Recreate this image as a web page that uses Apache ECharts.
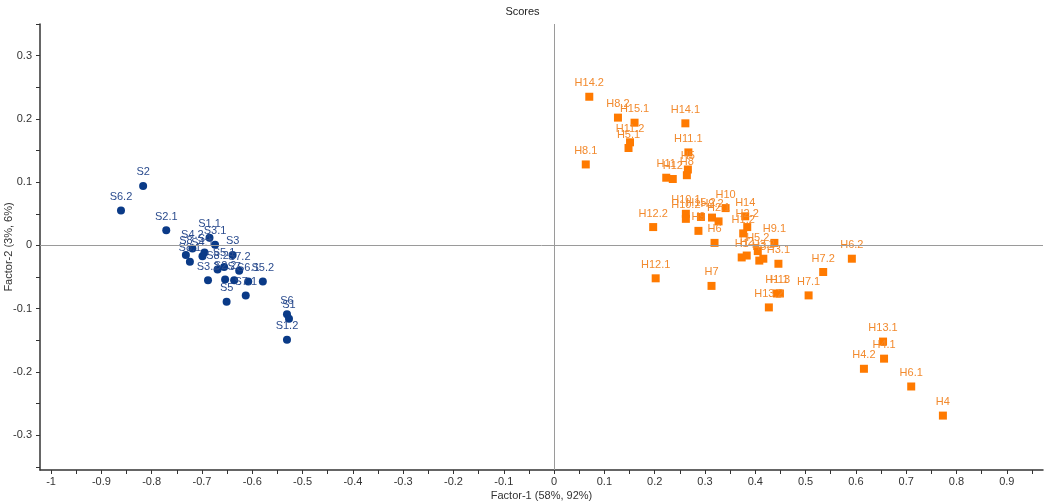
<!DOCTYPE html>
<html>
<head>
<meta charset="utf-8">
<script src="https://cdn.jsdelivr.net/npm/echarts@6/dist/echarts.min.js"></script>
<style>
html, body { margin: 0; padding: 0; background: #fff; }
#main { width: 1045px; height: 503px; }
</style>
</head>
<body>
<div id="main"></div>
<script>
// S samples (blue circles)
var sNames = ['S2', 'S6.2', 'S2.1', 'S1.1', 'S3.1', 'S4.2', 'S4', 'S4.1', 'S8', 'S8.1', 'S3', 'S8.2',
    'S5.1', 'S7.2', 'S6.1', 'S5.2', 'S3.2', 'S2.2', 'S7', 'S7.1', 'S5', 'S6', 'S1', 'S1.2'];
var sX = [-0.817, -0.861, -0.771, -0.685, -0.674, -0.719, -0.695, -0.699, -0.732, -0.724, -0.639, -0.669,
    -0.656, -0.626, -0.608, -0.579, -0.688, -0.654, -0.636, -0.613, -0.651, -0.531, -0.527, -0.531];
var sY = [0.094, 0.055, 0.024, 0.012, 0.001, -0.005, -0.011, -0.017, -0.015, -0.026, -0.015, -0.038,
    -0.034, -0.040, -0.057, -0.057, -0.055, -0.054, -0.055, -0.079, -0.089, -0.109, -0.116, -0.149];

// H samples (orange squares)
var hNames = ['H14.2', 'H8.2', 'H15.1', 'H11.2', 'H5.1', 'H8.1', 'H14.1', 'H11.1', 'H5', 'H8', 'H11', 'H12',
    'H10.1', 'H10.2', 'H15.2', 'H9.2', 'H2.1', 'H10', 'H9', 'H6', 'H12.2', 'H14', 'H2.2', 'H1.2',
    'H9.1', 'H5.2', 'H1', 'H2', 'H3', 'H3.2', 'H3.1', 'H7.2', 'H12.1', 'H7', 'H1.1', 'H13',
    'H13.2', 'H7.1', 'H6.2', 'H13.1', 'H4.1', 'H4.2', 'H6.1', 'H4'];
var hX = [0.070, 0.127, 0.160, 0.151, 0.148, 0.063, 0.261, 0.267, 0.266, 0.264, 0.223, 0.236,
    0.262, 0.262, 0.292, 0.314, 0.327, 0.341, 0.287, 0.319, 0.197, 0.380, 0.384, 0.376,
    0.438, 0.405, 0.373, 0.383, 0.408, 0.416, 0.446, 0.535, 0.202, 0.313, 0.443, 0.449,
    0.427, 0.506, 0.592, 0.654, 0.656, 0.616, 0.710, 0.773];
var hY = [0.235, 0.202, 0.194, 0.163, 0.154, 0.128, 0.193, 0.147, 0.120, 0.111, 0.107, 0.105,
    0.050, 0.042, 0.045, 0.044, 0.038, 0.059, 0.023, 0.004, 0.029, 0.046, 0.029, 0.019,
    0.004, -0.009, -0.019, -0.016, -0.024, -0.021, -0.029, -0.042, -0.052, -0.064, -0.076, -0.076,
    -0.098, -0.079, -0.021, -0.152, -0.179, -0.195, -0.223, -0.269];

// axis ticks
var xLabels = [-1, -0.9, -0.8, -0.7, -0.6, -0.5, -0.4, -0.3, -0.2, -0.1, 0, 0.1, 0.2, 0.3, 0.4, 0.5, 0.6, 0.7, 0.8, 0.9];
var xTicks = [-1, -0.95, -0.9, -0.85, -0.8, -0.75, -0.7, -0.65, -0.6, -0.55, -0.5, -0.45, -0.4, -0.35, -0.3, -0.25,
    -0.2, -0.15, -0.1, -0.05, 0, 0.05, 0.1, 0.15, 0.2, 0.25, 0.3, 0.35, 0.4, 0.45, 0.5, 0.55, 0.6, 0.65,
    0.7, 0.75, 0.8, 0.85, 0.9, 0.95];
var yLabels = [-0.3, -0.2, -0.1, 0, 0.1, 0.2, 0.3];
var yTicks = [-0.35, -0.3, -0.25, -0.2, -0.15, -0.1, -0.05, 0, 0.05, 0.1, 0.15, 0.2, 0.25, 0.3, 0.35];

function toPoints(names, xs, ys) {
    var out = [];
    for (var i = 0; i < names.length; i++) {
        out.push({name: names[i], value: [xs[i], ys[i]]});
    }
    return out;
}

var fontFam = 'Liberation Sans, Arial, sans-serif';
var myChart = echarts.init(document.getElementById('main'));
var option = {
    animation: false,
    title: {
        text: 'Scores',
        left: 'center',
        top: 1,
        textStyle: {fontSize: 11, fontWeight: 'normal', color: '#222', fontFamily: fontFam}
    },
    grid: {left: 40, right: 2, top: 24, bottom: 33, outerBoundsMode: 'none', containLabel: false},
    xAxis: {
        type: 'value',
        min: -1.022,
        max: 0.972,
        name: 'Factor-1 (58%, 92%)',
        nameLocation: 'middle',
        nameGap: 20,
        nameMoveOverlap: false,
        nameTextStyle: {fontSize: 11, color: '#333', fontFamily: fontFam},
        axisLine: {onZero: false, lineStyle: {color: '#333', width: 1.5}},
        axisTick: {show: true, length: 4, customValues: xTicks, lineStyle: {color: '#333'}},
        axisLabel: {customValues: xLabels, fontSize: 11, color: '#333', margin: 6, fontFamily: fontFam},
        splitLine: {show: false}
    },
    yAxis: {
        type: 'value',
        min: -0.355,
        max: 0.35,
        name: 'Factor-2 (3%, 6%)',
        nameLocation: 'middle',
        nameGap: 26,
        nameMoveOverlap: false,
        nameTextStyle: {fontSize: 11, color: '#333', fontFamily: fontFam},
        axisLine: {onZero: false, lineStyle: {color: '#333', width: 1.5}},
        axisTick: {show: true, length: 4, customValues: yTicks, lineStyle: {color: '#333'}},
        axisLabel: {customValues: yLabels, fontSize: 11, color: '#333', margin: 8, fontFamily: fontFam},
        splitLine: {show: false}
    },
    series: [{
        name: 'S',
        type: 'scatter',
        symbol: 'circle',
        symbolSize: 8,
        itemStyle: {color: '#0a3a87', opacity: 1},
        label: {
            show: true,
            position: 'top',
            distance: 4,
            formatter: '{b}',
            fontSize: 11,
            color: '#2b4c8e',
            fontFamily: fontFam
        },
        markLine: {
            silent: true,
            symbol: 'none',
            label: {show: false},
            lineStyle: {color: '#9a9a9a', width: 1, type: 'solid'},
            data: [{xAxis: 0}, {yAxis: 0}]
        },
        data: toPoints(sNames, sX, sY)
    }, {
        name: 'H',
        type: 'scatter',
        symbol: 'rect',
        symbolSize: 8,
        itemStyle: {color: '#ff7a00', opacity: 1},
        label: {
            show: true,
            position: 'top',
            distance: 4,
            formatter: '{b}',
            fontSize: 11,
            color: '#f28a2e',
            fontFamily: fontFam
        },
        data: toPoints(hNames, hX, hY)
    }]
};
myChart.setOption(option);
</script>
</body>
</html>
